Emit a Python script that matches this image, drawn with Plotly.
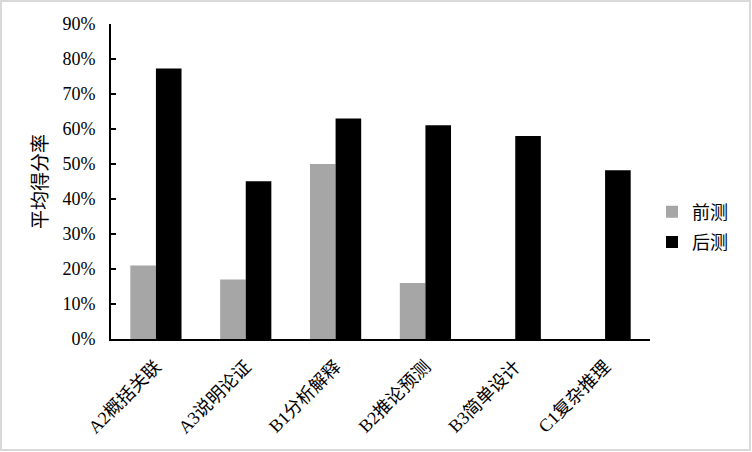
import plotly.graph_objects as go

categories = ["A2概括关联", "A3说明论证", "B1分析解释", "B2推论预测", "B3简单设计", "C1复杂推理"]
pre_values = [0.21, 0.17, 0.50, 0.16, 0, 0]
post_values = [0.773, 0.451, 0.630, 0.611, 0.580, 0.482]
y_ticks = [0, 0.1, 0.2, 0.3, 0.4, 0.5, 0.6, 0.7, 0.8, 0.9]
y_tick_labels = ["0%", "10%", "20%", "30%", "40%", "50%", "60%", "70%", "80%", "90%"]

FONT = "Liberation Serif, Times New Roman, Noto Sans CJK SC, serif"

fig = go.Figure()
fig.add_trace(go.Bar(name="前测", x=categories, y=pre_values, legendgroup="pre",
                     marker=dict(color="#a6a6a6", line=dict(width=0))))
fig.add_trace(go.Bar(name="后测", x=categories, y=post_values, legendgroup="post",
                     marker=dict(color="#000000", line=dict(width=0))))

W, H = 752, 452
L, R, T, B = 111, 102, 24, 113
pw, ph = W - L - R, H - T - B

def px_x(p):
    return (p - L) / pw

def px_y(p):
    return (H - B - p) / ph

fig.update_layout(
    width=W, height=H,
    margin=dict(l=L, r=R, t=T, b=B, pad=0),
    paper_bgcolor="white", plot_bgcolor="white",
    barmode="group", bargap=0.43, bargroupgap=0,
    font=dict(family=FONT, size=18, color="#000000"),
    showlegend=True,
    legend=dict(x=px_x(652), y=px_y(227), xanchor="left", yanchor="middle",
                font=dict(size=18, family=FONT), itemwidth=30, tracegroupgap=4,
                traceorder="grouped", bgcolor="rgba(0,0,0,0)"),
    xaxis=dict(showline=True, linecolor="black", linewidth=2, ticks="", tickangle=-45,
               tickfont=dict(size=18, family=FONT), showgrid=False, zeroline=False,
               ticklabelstandoff=8),
    yaxis=dict(range=[0, 0.9], tickvals=y_ticks, ticktext=y_tick_labels, showline=True,
               linecolor="black", linewidth=2, ticks="inside", ticklen=5, tickwidth=2,
               tickcolor="black", showgrid=False, zeroline=False,
               tickfont=dict(size=18, family=FONT), ticklabelstandoff=10),
    annotations=[dict(text="平均得分率", xref="paper", yref="paper", x=px_x(40), y=px_y(182),
                      showarrow=False, textangle=-90, font=dict(size=19, family=FONT),
                      xanchor="center", yanchor="middle")],
    shapes=[dict(type="rect", xref="paper", yref="paper", x0=px_x(1), x1=px_x(750),
                 y0=px_y(450), y1=px_y(1), line=dict(color="#d9d9d9", width=2), layer="below")],
)

fig.write_html("out.html", config={"displayModeBar": False},
               post_script="document.body.style.margin='0';document.body.style.overflow='hidden';")
